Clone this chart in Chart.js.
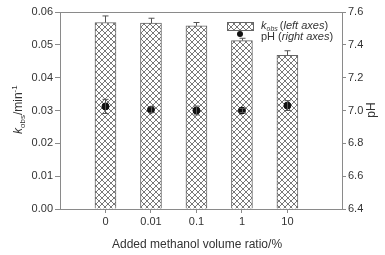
<!DOCTYPE html>
<html>
<head>
<meta charset="utf-8">
<script src="https://cdn.jsdelivr.net/npm/chart.js@4/dist/chart.umd.min.js"></script>
<style>
  body { margin: 0; background: #fff; }
  canvas { display: block; }
</style>
</head>
<body>
<canvas id="chart" width="385" height="255"></canvas>
<script>
const categories = ['0', '0.01', '0.1', '1', '10'];
const positions = [0, 1, 2, 3, 4];
const kobs = [0.0568, 0.0566, 0.0558, 0.0513, 0.0468];
const kobsErr = [0.0020, 0.0015, 0.0010, 0.0007, 0.0014];
const pH = [7.025, 7.005, 7.00, 7.00, 7.03];
const pHErr = [0.043, 0.018, 0.027, 0.012, 0.03];

const FONT = "'Liberation Sans', Arial, sans-serif";
const AXIS = '#8a8a8a';
const TEXT = '#333';

function makeHatch() {
    const c = document.createElement('canvas');
    c.width = 6; c.height = 6;
    const g = c.getContext('2d');
    g.fillStyle = '#fff';
    g.fillRect(0, 0, 6, 6);
    g.strokeStyle = '#555';
    g.lineWidth = 0.8;
    g.beginPath();
    g.moveTo(0, 0); g.lineTo(6, 6);
    g.moveTo(6, 0); g.lineTo(0, 6);
    g.stroke();
    return g.createPattern(c, 'repeat');
}
const hatch = makeHatch();

// error bars, frame, titles and legend
const extras = {
    id: 'extras',
    afterDatasetsDraw(chart) {
        const ctx = chart.ctx;
        const x = chart.scales.x, y = chart.scales.y, y2 = chart.scales.y2;
        ctx.save();
        ctx.strokeStyle = '#555';
        ctx.lineWidth = 1;
        positions.forEach((p, i) => {
            const px = Math.round(x.getPixelForValue(p)) + 0.5;
            // bar error (upper only)
            const top = y.getPixelForValue(kobs[i]);
            const e = y.getPixelForValue(kobs[i] + kobsErr[i]);
            ctx.beginPath();
            ctx.moveTo(px, top); ctx.lineTo(px, e);
            ctx.moveTo(px - 3, e); ctx.lineTo(px + 3, e);
            ctx.stroke();
            // pH error
            const a = y2.getPixelForValue(pH[i] + pHErr[i]);
            const b = y2.getPixelForValue(pH[i] - pHErr[i]);
            ctx.beginPath();
            ctx.moveTo(px, a); ctx.lineTo(px, b);
            ctx.moveTo(px - 3, a); ctx.lineTo(px + 3, a);
            ctx.moveTo(px - 3, b); ctx.lineTo(px + 3, b);
            ctx.stroke();
        });
        ctx.restore();
    },
    afterDraw(chart) {
        const ctx = chart.ctx;
        const area = chart.chartArea;
        ctx.save();
        // top frame line
        ctx.strokeStyle = AXIS;
        ctx.lineWidth = 1;
        ctx.beginPath();
        ctx.moveTo(area.left, Math.round(area.top) + 0.5);
        ctx.lineTo(area.right, Math.round(area.top) + 0.5);
        ctx.stroke();

        ctx.fillStyle = TEXT;
        ctx.textBaseline = 'alphabetic';

        // x title
        ctx.font = '12px ' + FONT;
        ctx.textAlign = 'center';
        ctx.fillText('Added methanol volume ratio/%', 197, 248);

        // left title: k_obs/min^-1
        ctx.save();
        ctx.translate(22, 134);
        ctx.rotate(-Math.PI / 2);
        ctx.textAlign = 'left';
        let cx = 0;
        ctx.font = 'italic 12px ' + FONT;
        ctx.fillText('k', cx, 0); cx += ctx.measureText('k').width;
        ctx.font = '8px ' + FONT;
        ctx.fillText('obs', cx, 3); cx += ctx.measureText('obs').width;
        ctx.font = '12px ' + FONT;
        ctx.fillText('/min', cx, 0); cx += ctx.measureText('/min').width;
        ctx.font = '8px ' + FONT;
        ctx.fillText('-1', cx, -5);
        ctx.restore();

        // right title
        ctx.save();
        ctx.translate(375, 110);
        ctx.rotate(-Math.PI / 2);
        ctx.textAlign = 'center';
        ctx.font = '12px ' + FONT;
        ctx.fillText('pH', 0, 0);
        ctx.restore();

        // legend
        ctx.fillStyle = hatch;
        ctx.fillRect(227, 22, 26, 8);
        ctx.strokeStyle = '#666';
        ctx.strokeRect(227.5, 22.5, 26, 8);
        ctx.fillStyle = '#111';
        ctx.beginPath();
        ctx.arc(240, 34, 3, 0, Math.PI * 2);
        ctx.fill();

        ctx.fillStyle = TEXT;
        ctx.textAlign = 'left';
        cx = 261;
        ctx.font = 'italic 11px ' + FONT;
        ctx.fillText('k', cx, 29); cx += ctx.measureText('k').width;
        ctx.font = 'italic 7px ' + FONT;
        ctx.fillText('obs', cx, 31); cx += ctx.measureText('obs').width + 2;
        ctx.font = '11px ' + FONT;
        ctx.fillText('(', cx, 29); cx += ctx.measureText('(').width;
        ctx.font = 'italic 11px ' + FONT;
        ctx.fillText('left axes', cx, 29); cx += ctx.measureText('left axes').width;
        ctx.font = '11px ' + FONT;
        ctx.fillText(')', cx, 29);

        cx = 261;
        ctx.font = '11px ' + FONT;
        ctx.fillText('pH (', cx, 40); cx += ctx.measureText('pH (').width;
        ctx.font = 'italic 11px ' + FONT;
        ctx.fillText('right axes', cx, 40); cx += ctx.measureText('right axes').width;
        ctx.font = '11px ' + FONT;
        ctx.fillText(')', cx, 40);
        ctx.restore();
    }
};

const tickFont = { family: FONT, size: 11 };

new Chart(document.getElementById('chart').getContext('2d'), {
    data: {
        datasets: [
            {
                type: 'bar',
                label: 'kobs',
                data: positions.map((p, i) => ({ x: p, y: kobs[i] })),
                yAxisID: 'y',
                backgroundColor: hatch,
                borderColor: '#666',
                borderWidth: 1,
                barThickness: 21,
                order: 2
            },
            {
                type: 'scatter',
                label: 'pH',
                data: positions.map((p, i) => ({ x: p, y: pH[i] })),
                yAxisID: 'y2',
                backgroundColor: '#111',
                borderColor: '#111',
                pointRadius: 3.5,
                order: 1
            }
        ]
    },
    options: {
        responsive: false,
        animation: false,
        layout: { padding: { top: 12, left: 0, right: 0, bottom: 0 } },
        plugins: { legend: { display: false }, tooltip: { enabled: false } },
        scales: {
            x: {
                type: 'linear',
                position: 'bottom',
                min: -1,
                max: 5.2,
                offset: false,
                ticks: {
                    stepSize: 1,
                    autoSkip: false,
                    callback: v => categories[positions.indexOf(v)] ?? '',
                    font: tickFont, color: TEXT, padding: 2, maxRotation: 0
                },
                grid: {
                    offset: false,
                    drawOnChartArea: false,
                    tickLength: 4,
                    color: AXIS,
                    tickColor: c => positions.includes(c.tick && c.tick.value) ? AXIS : 'rgba(0,0,0,0)'
                },
                border: { color: AXIS },
                afterFit: s => { s.height = 46; }
            },
            y: {
                type: 'linear',
                position: 'left',
                min: 0,
                max: 0.06,
                ticks: { stepSize: 0.01, callback: v => v.toFixed(2), font: tickFont, color: TEXT, padding: 2 },
                grid: { drawOnChartArea: false, tickLength: 5, color: AXIS },
                border: { color: AXIS },
                afterFit: s => { s.width = 60; }
            },
            y2: {
                type: 'linear',
                position: 'right',
                min: 6.4,
                max: 7.6,
                ticks: { stepSize: 0.2, callback: v => v.toFixed(1), font: tickFont, color: TEXT, padding: 2 },
                grid: { drawOnChartArea: false, tickLength: 4, color: AXIS },
                border: { color: AXIS },
                afterFit: s => { s.width = 43; }
            }
        }
    },
    plugins: [extras]
});
</script>
</body>
</html>
